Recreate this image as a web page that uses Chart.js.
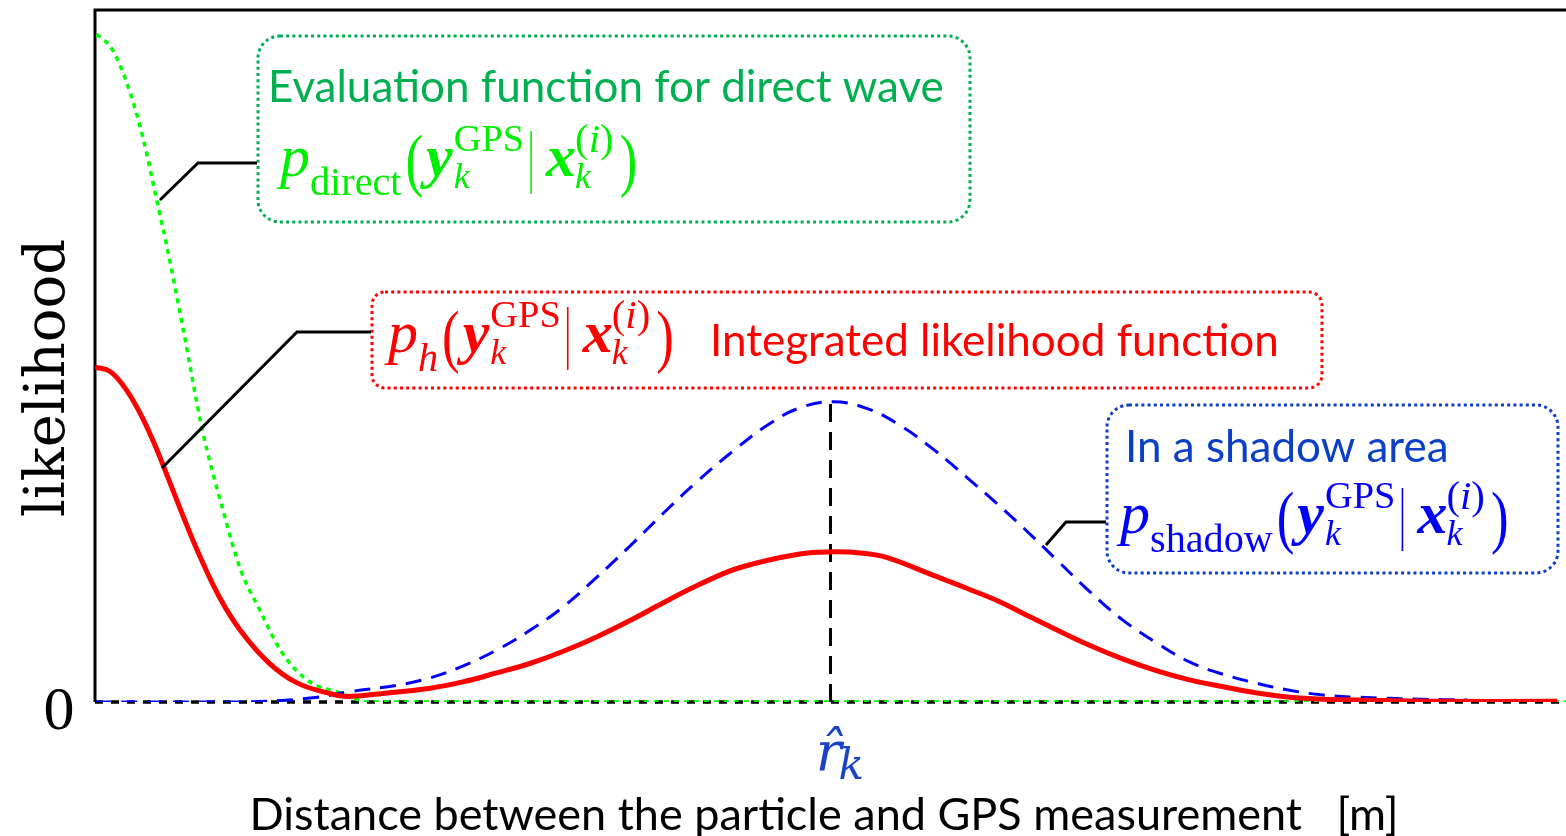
<!DOCTYPE html>
<html>
<head>
<meta charset="utf-8">
<script src="https://cdn.jsdelivr.net/npm/chart.js@4"></script>
<style>
html,body{margin:0;padding:0;background:#fff;}
#wrap{width:1566px;height:836px;position:relative;}
</style>
</head>
<body>
<div id="wrap"><canvas id="c" width="1566" height="836"></canvas></div>
<script>
// ---- data (x: distance, arbitrary units 0..100; y: likelihood 0..1) ----
const directX = [0, 1.2, 2.4, 3.3, 4.2, 4.9, 6.0, 7.3, 8.7, 9.9, 11.2, 12.6, 14.4, 16.7, 18.7, 30, 50, 70, 100];
const directY = [0.967, 0.942, 0.880, 0.812, 0.725, 0.657, 0.538, 0.393, 0.277, 0.191, 0.133, 0.075, 0.032, 0.013, 0, 0, 0, 0, 0];

const integratedX = [0, 1.0, 2.0, 3.0, 4.0, 5.0, 6.0, 7.1, 8.5, 9.9, 11.8, 13.7, 16.0, 17.1, 19.4, 22.8, 25.0, 27.3, 29.6, 31.8, 34.1, 36.4, 38.6, 40.9, 43.8, 47.9, 50.2, 52.2, 53.8, 57.0, 59.3, 61.5, 63.1, 65.4, 67.6, 69.9, 72.2, 74.4, 76.7, 79.0, 81.2, 83.5, 85.8, 90.8, 99.4];
const integratedY = [0.484, 0.478, 0.455, 0.420, 0.375, 0.322, 0.268, 0.212, 0.150, 0.103, 0.057, 0.028, 0.012, 0.008, 0.012, 0.020, 0.029, 0.042, 0.056, 0.073, 0.094, 0.118, 0.143, 0.168, 0.194, 0.214, 0.217, 0.215, 0.209, 0.183, 0.164, 0.145, 0.128, 0.104, 0.082, 0.062, 0.045, 0.032, 0.022, 0.013, 0.007, 0.004, 0.003, 0.001, 0.001];

const shadowX = [0, 10, 14.8, 17.3, 20.5, 22.8, 25.0, 27.3, 29.6, 31.8, 34.1, 36.4, 38.6, 40.9, 43.4, 45.7, 47.9, 50.2, 52.5, 54.7, 57.0, 59.3, 61.3, 63.1, 65.4, 67.6, 69.9, 72.2, 74.4, 76.7, 79.0, 81.2, 83.5, 85.8, 90.1, 93.3];
const shadowY = [0, 0, 0.006, 0.015, 0.024, 0.035, 0.052, 0.075, 0.104, 0.137, 0.180, 0.226, 0.272, 0.318, 0.363, 0.400, 0.425, 0.434, 0.424, 0.400, 0.365, 0.324, 0.287, 0.252, 0.205, 0.160, 0.118, 0.085, 0.058, 0.040, 0.027, 0.017, 0.010, 0.007, 0.004, 0.003];

const peakX = [50, 50];
const peakY = [0, 0.434];

const yTickLabels = ['0'];
const yTitle = 'likelihood';
const xTitle = 'Distance between the particle and GPS measurement   [m]';
const peakLabel = 'r\u0302';
const peakSub = 'k';
const directCaption = 'Evaluation function for direct wave';
const integratedCaption = 'Integrated likelihood function';
const shadowCaption = 'In a shadow area';

const pts = (xs, ys) => xs.map((x, i) => ({x: x, y: ys[i]}));

const SERIF = '"Liberation Serif", "Times New Roman", serif';
const SANS = 'Lato, "Open Sans", sans-serif';

function roundDotted(ctx, x1, y1, x2, y2, r, color) {
  ctx.save();
  ctx.strokeStyle = color;
  ctx.lineWidth = 3;
  ctx.setLineDash([3, 3.2]);
  ctx.beginPath();
  ctx.moveTo(x1 + r, y1);
  ctx.lineTo(x2 - r, y1);
  ctx.arcTo(x2, y1, x2, y1 + r, r);
  ctx.lineTo(x2, y2 - r);
  ctx.arcTo(x2, y2, x2 - r, y2, r);
  ctx.lineTo(x1 + r, y2);
  ctx.arcTo(x1, y2, x1, y2 - r, r);
  ctx.lineTo(x1, y1 + r);
  ctx.arcTo(x1, y1, x1 + r, y1, r);
  ctx.closePath();
  ctx.stroke();
  ctx.restore();
}

function polyline(ctx, points) {
  ctx.save();
  ctx.strokeStyle = '#000';
  ctx.lineWidth = 3;
  ctx.setLineDash([]);
  ctx.beginPath();
  points.forEach((p, i) => i ? ctx.lineTo(p[0], p[1]) : ctx.moveTo(p[0], p[1]));
  ctx.stroke();
  ctx.restore();
}

function drawFormula(ctx, x0, base, S, color, name, nameItalic) {
  ctx.save();
  ctx.fillStyle = color;
  ctx.strokeStyle = color;
  ctx.textBaseline = 'alphabetic';
  ctx.textAlign = 'left';
  let x = x0;
  const put = (t, style, size, dy, at) => {
    ctx.font = style + ' ' + size + 'px ' + SERIF;
    ctx.fillText(t, at === undefined ? x : at, base + dy);
    return ctx.measureText(t).width;
  };
  // tall, thin parenthesis: smaller glyph stretched vertically
  const paren = (t) => {
    ctx.save();
    ctx.font = 'normal ' + (S * 0.8) + 'px ' + SERIF;
    ctx.translate(x, base + S * 0.12);
    ctx.scale(1.1, 1.45);
    ctx.fillText(t, 0, 0);
    const w = ctx.measureText(t).width * 1.1;
    ctx.restore();
    return w + 3;
  };
  x += put('p', 'italic', S, 0);
  x += put(name, nameItalic ? 'italic' : 'normal', S * 0.67, S * 0.32) + 4;
  x += paren('(');
  x += put('y', 'italic bold', S, 0) + 1;
  let xs = x;
  let w1 = put('GPS', 'normal', S * 0.64, -S * 0.42, xs);
  let w2 = put('k', 'italic', S * 0.6, S * 0.2, xs);
  x += Math.max(w1, w2) + 7;
  ctx.lineWidth = 1.6;
  ctx.beginPath();
  ctx.moveTo(x, base - S * 0.75);
  ctx.lineTo(x, base + S * 0.3);
  ctx.stroke();
  x += 15;
  x += put('x', 'italic bold', S, 0) + 1;
  xs = x - 2;
  let a = put('(', 'normal', S * 0.68, -S * 0.4, xs);
  let b = put('i', 'italic', S * 0.68, -S * 0.4, xs + a);
  let c = put(')', 'normal', S * 0.68, -S * 0.4, xs + a + b);
  w2 = put('k', 'italic', S * 0.6, S * 0.2, xs);
  x = xs + Math.max(a + b + c, w2) + 6;
  paren(')');
  ctx.restore();
}

const decor = {
  id: 'decor',
  beforeDatasetsDraw(chart) {
    const ctx = chart.ctx;
    const a = chart.chartArea;
    ctx.save();
    ctx.strokeStyle = '#000';
    ctx.lineWidth = 3;
    ctx.beginPath();
    ctx.moveTo(a.left, a.bottom);
    ctx.lineTo(a.left, a.top);
    ctx.lineTo(a.right, a.top);
    ctx.stroke();
    ctx.setLineDash([8, 8]);
    ctx.lineWidth = 3.5;
    ctx.beginPath();
    ctx.moveTo(a.left, a.bottom);
    ctx.lineTo(a.right, a.bottom);
    ctx.stroke();
    ctx.restore();
  },
  afterDatasetsDraw(chart) {
    const ctx = chart.ctx;
    const sx = chart.scales.x, sy = chart.scales.y;
    ctx.save();
    ctx.fillStyle = '#000';
    ctx.font = '56px "DejaVu Serif", serif';
    ctx.textAlign = 'center';
    ctx.textBaseline = 'alphabetic';
    ctx.save();
    ctx.translate(64, 378);
    ctx.rotate(-Math.PI / 2);
    ctx.fillText(yTitle, 0, 0);
    ctx.restore();
    ctx.font = '62px ' + SERIF;
    ctx.textAlign = 'center';
    ctx.fillText(yTickLabels[0], 59, sy.getPixelForValue(0) + 27);
    ctx.font = '45px ' + SANS;
    ctx.fillText(xTitle, 824, 830);
    const px = sx.getPixelForValue(peakX[0]);
    ctx.fillStyle = '#1a44c8';
    ctx.font = 'italic 54px "DejaVu Serif", serif';
    ctx.textAlign = 'right';
    ctx.fillText(peakLabel, px + 11, 770);
    ctx.textAlign = 'left';
    ctx.font = 'italic 42px "DejaVu Serif", serif';
    ctx.fillText(peakSub, px + 8, 779);

    roundDotted(ctx, 258, 36, 970, 222, 22, '#00b050');
    roundDotted(ctx, 372, 292, 1322, 388, 13, '#ff0000');
    roundDotted(ctx, 1107, 405, 1558, 573, 22, '#0b3fc8');

    polyline(ctx, [[160, 200], [198, 163], [257, 163]]);
    polyline(ctx, [[162, 468], [297, 332], [371, 332]]);
    polyline(ctx, [[1046, 545], [1066, 522], [1106, 522]]);

    ctx.textAlign = 'left';
    ctx.font = '44px ' + SANS;
    ctx.fillStyle = '#00b050';
    ctx.fillText(directCaption, 268, 102);
    ctx.fillStyle = '#ff0000';
    ctx.fillText(integratedCaption, 710, 356);
    ctx.fillStyle = '#0b3fc8';
    ctx.fillText(shadowCaption, 1125, 462);

    drawFormula(ctx, 280, 176, 60, '#00ee00', 'direct', false);
    drawFormula(ctx, 388, 352, 60, '#ff0000', 'h', true);
    drawFormula(ctx, 1120, 533, 60, '#0000ff', 'shadow', false);
    ctx.restore();
  }
};

new Chart(document.getElementById('c'), {
  type: 'line',
  data: {
    datasets: [
      {label: 'integrated', data: pts(integratedX, integratedY), borderColor: '#ff0000', borderWidth: 5, pointRadius: 0, tension: 0.4, order: 0},
      {label: 'shadow', data: pts(shadowX, shadowY), borderColor: '#0000ff', borderWidth: 3, borderDash: [16, 10], pointRadius: 0, tension: 0.4, order: 1},
      {label: 'peak', data: pts(peakX, peakY), borderColor: '#000', borderWidth: 3, borderDash: [18, 10], pointRadius: 0, order: 2},
      {label: 'direct', data: pts(directX, directY), borderColor: '#00ff00', borderWidth: 3.5, borderDash: [5, 5], borderDashOffset: 8, pointRadius: 0, cubicInterpolationMode: 'monotone', order: 3}
    ]
  },
  options: {
    responsive: false,
    devicePixelRatio: 1,
    animation: false,
    layout: {padding: {left: 95, top: 10, right: 0, bottom: 134}},
    plugins: {legend: {display: false}, tooltip: {enabled: false}},
    scales: {
      x: {type: 'linear', min: 0, max: 100, display: false},
      y: {type: 'linear', min: 0, max: 1, display: false}
    }
  },
  plugins: [decor]
});
</script>
</body>
</html>
